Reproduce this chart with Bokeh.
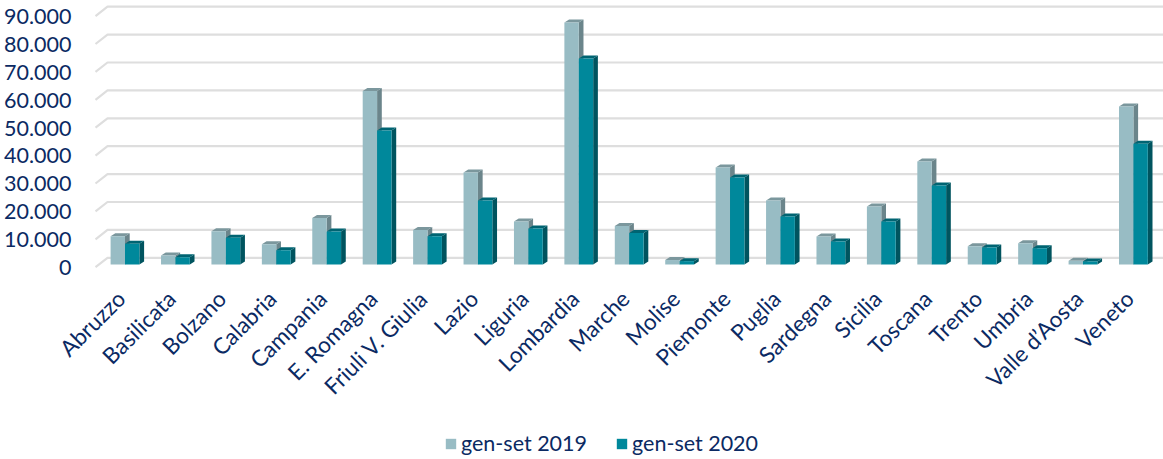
from math import pi
from bokeh.embed import file_html
from bokeh.resources import INLINE
from bokeh.plotting import figure
from bokeh.models import (LinearAxis, Range1d, FixedTicker, Legend, LegendItem)

categories = ["Abruzzo", "Basilicata", "Bolzano", "Calabria", "Campania", "E. Romagna",
              "Friuli V. Giulia", "Lazio", "Liguria", "Lombardia", "Marche", "Molise",
              "Piemonte", "Puglia", "Sardegna", "Sicilia", "Toscana", "Trento", "Umbria",
              "Valle d’Aosta", "Veneto"]
series_2019 = [10100, 3200, 11900, 7300, 16700, 62200, 12400, 33000, 15400, 86700, 13800,
               1600, 34800, 22900, 10000, 20800, 36900, 6500, 7600, 1300, 56600]
series_2020 = [7400, 2600, 9600, 5100, 11800, 48000, 10100, 22900, 12900, 73800, 11300,
               1200, 31200, 17200, 8200, 15400, 28300, 6100, 5800, 1100, 43300]
tick_values = [0, 10000, 20000, 30000, 40000, 50000, 60000, 70000, 80000, 90000]
tick_labels = ["0", "10.000", "20.000", "30.000", "40.000", "50.000", "60.000", "70.000",
               "80.000", "90.000"]

W, H = 1163, 459
PX_X = 1 / 50.42          # category units per pixel
PX_Y = 10000 / 27.9       # value per pixel
X0, Y0 = 124.5, 264.0     # pixel of first group centre and of the front zero line

NAVY = "#0B2A63"
FONT = "Lato"
C19, C19D, C19T = "#98BCC4", "#6B858B", "#7B979D"
C20, C20D, C20T = "#00889B", "#00545F", "#006472"
GRID = "#DEDEDE"

x_range = Range1d((0 - X0) * PX_X, (W - X0) * PX_X)
y_range = Range1d((Y0 - H) * PX_Y, Y0 * PX_Y)

p = figure(width=W, height=H, x_range=x_range, y_range=y_range,
           output_backend="svg", toolbar_location=None, min_border=0,
           x_axis_type=None, y_axis_type=None, outline_line_color=None)
p.grid.visible = False
p.background_fill_color = None
p.border_fill_color = None

wx0 = (95 - X0) * PX_X
wx1 = (107 - X0) * PX_X
wx2 = (1163 - X0) * PX_X
wf = (Y0 - 266.7) * PX_Y
wb = (Y0 - 257.3) * PX_Y
xs, ys = [], []
for v in tick_values:
    xs.append([wx0, wx1, wx2])
    ys.append([v + wf, v + wb, v + wb])
p.multi_line(xs, ys, line_color=GRID, line_width=2.2)

BW = 14.4 * PX_X
DX, DY = 4.7 * PX_X, 3.0 * PX_Y


def bars(values, shift, face, side, top):
    lefts = [i + shift for i in range(len(values))]
    rights = [l + BW for l in lefts]
    side_x = [[r, r + DX, r + DX, r] for r in rights]
    side_y = [[0, DY, v + DY, v] for v in values]
    top_x = [[l, l + DX, r + DX, r] for l, r in zip(lefts, rights)]
    top_y = [[v, v + DY, v + DY, v] for v in values]
    p.patches(side_x, side_y, fill_color=side, line_color=None)
    p.patches(top_x, top_y, fill_color=top, line_color=None)
    return p.quad(left=lefts, right=rights, bottom=0, top=values,
                  fill_color=face, line_color=None)


r19 = bars(series_2019, -BW, C19, C19D, C19T)
r20 = bars(series_2020, 0, C20, C20D, C20T)

p.extra_y_ranges["labels"] = Range1d(y_range.start + 3.0 * PX_Y, y_range.end + 3.0 * PX_Y)
yaxis = LinearAxis(y_range_name="labels", fixed_location=(77 - X0) * PX_X,
                   ticker=FixedTicker(ticks=tick_values),
                   major_label_overrides=dict(zip(tick_values, tick_labels)),
                   axis_line_color=None, major_tick_line_color=None, minor_tick_line_color=None,
                   major_label_standoff=0, major_label_text_font=FONT,
                   major_label_text_font_size="21.5px", major_label_text_color=NAVY)
p.add_layout(yaxis, "left")

p.extra_x_ranges["labels"] = Range1d(x_range.start + 4 * PX_X, x_range.end + 4 * PX_X)
idx = list(range(len(categories)))
xaxis = LinearAxis(x_range_name="labels", fixed_location=(Y0 - 284) * PX_Y,
                   ticker=FixedTicker(ticks=idx),
                   major_label_overrides=dict(zip(idx, categories)),
                   major_label_orientation=pi / 4,
                   axis_line_color=None, major_tick_line_color=None, minor_tick_line_color=None,
                   major_label_standoff=4, major_label_text_font=FONT,
                   major_label_text_font_size="22.5px", major_label_text_color=NAVY)
p.add_layout(xaxis, "below")

legend = Legend(items=[LegendItem(label="gen-set 2019", renderers=[r19]),
                       LegendItem(label="gen-set 2020", renderers=[r20])],
                orientation="horizontal", location=(444, 459 - 456),
                background_fill_alpha=0, border_line_color=None,
                glyph_width=13, glyph_height=13, label_standoff=4, spacing=28,
                padding=0, margin=0, label_text_font=FONT, label_text_font_size="21.5px",
                label_text_color=NAVY)
p.add_layout(legend, "center")

open("out.html", "w").write(file_html(p, INLINE))
